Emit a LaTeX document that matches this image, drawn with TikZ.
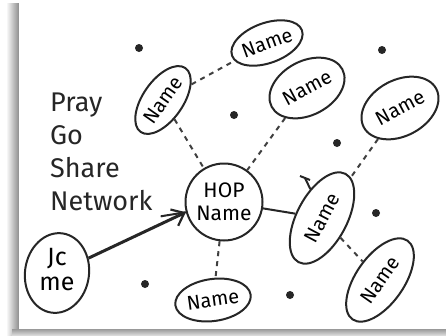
\documentclass[tikz,border=0pt]{standalone}
\usepackage{fontspec}
\setmainfont{Fira Sans}
\usetikzlibrary{shapes.geometric,arrows.meta}
\begin{document}
\begin{tikzpicture}[x=1pt,y=-1pt,
  pen/.style={draw=black!85,line width=2pt},
  namebox/.style={pen,ellipse,inner sep=0pt,font=\fontsize{20}{20}\selectfont},
  dot/.style={circle,fill=black!85,inner sep=0pt,minimum size=8pt},
  link/.style={draw=black!75,line width=2pt,dash pattern=on 5pt off 5pt},
  solidlink/.style={draw=black!85,line width=2pt},
  bigarrow/.style={draw=black!85,line width=3pt,-{Straight Barb[length=11pt,width=18pt,line width=2.2pt]}},
  words/.style={font=\fontsize{27}{33}\selectfont,align=left,text=black!85,inner sep=0pt}]
\useasboundingbox (0,0) rectangle (446,335);
% paper and shadow
\shade[left color=white,right color=black!45] (6,3) rectangle (19,335);
\shade[top color=black!40,bottom color=black!15] (12,329) rectangle (446,335);
\fill[white] (19,0) rectangle (446,329);
% dots
\node[dot] (d1) at (139,48) {};
\node[dot] (d2) at (382,50) {};
\node[dot] (d3) at (234,115) {};
\node[dot] (d4) at (337,143) {};
\node[dot] (d5) at (376,213) {};
\node[dot] (d6) at (145,284) {};
\node[dot] (d7) at (290,295) {};
% name nodes
\node[namebox,rotate=20,minimum width=66pt,minimum height=40pt] (n1) at (267,43) {Name};
\node[namebox,rotate=55,minimum width=78pt,minimum height=40pt] (n2) at (163,100) {Name};
\node[namebox,rotate=28,minimum width=80pt,minimum height=54pt] (n3) at (307,88) {Name};
\node[namebox,rotate=28,minimum width=82pt,minimum height=56pt] (n4) at (400,108) {Name};
\node[namebox,rotate=62,minimum width=100pt,minimum height=50pt] (n5) at (322,218) {Name};
\node[namebox,rotate=8,minimum width=76pt,minimum height=42pt] (n6) at (213,300) {Name};
\node[namebox,rotate=55,minimum width=96pt,minimum height=48pt] (n7) at (380,280) {Name};
\node[pen,circle,minimum size=77pt,inner sep=0pt,align=center,font=\fontsize{21}{23}\selectfont] (hop) at (224,202) {HOP\\Name};
\node[pen,ellipse,rotate=-8,minimum width=64pt,minimum height=80pt,inner sep=0pt,align=center,font=\fontsize{25}{25}\selectfont] (me) at (57,273) {\rotatebox{8}{\begin{tabular}{@{}c@{}}Jc\\me\end{tabular}}};
% words
\node[words,anchor=north west] (net) at (50,93) {Pray\\Go\\Share\\Network};
% connectors
\draw[link] (n2) -- (n1);
\draw[link] (n2) -- (hop);
\draw[link] (n3) -- (hop);
\draw[link] (n4) -- (n5);
\draw[link] (hop) -- (n6);
\draw[link] (n5) -- (n7);
\draw[solidlink] (hop) -- (n5);
\draw[bigarrow] (me) -- (hop.195);
\draw[solidlink] ([xshift=8pt,yshift=-5pt]net.south east) -- (hop.195);
% tick mark on n5
\coordinate (tk) at (305,178);
\draw[solidlink] (n5.50) -- (tk);
\draw[solidlink] ([xshift=-5pt,yshift=2pt]tk) -- ([xshift=5pt,yshift=-2pt]tk);
\end{tikzpicture}
\end{document}
